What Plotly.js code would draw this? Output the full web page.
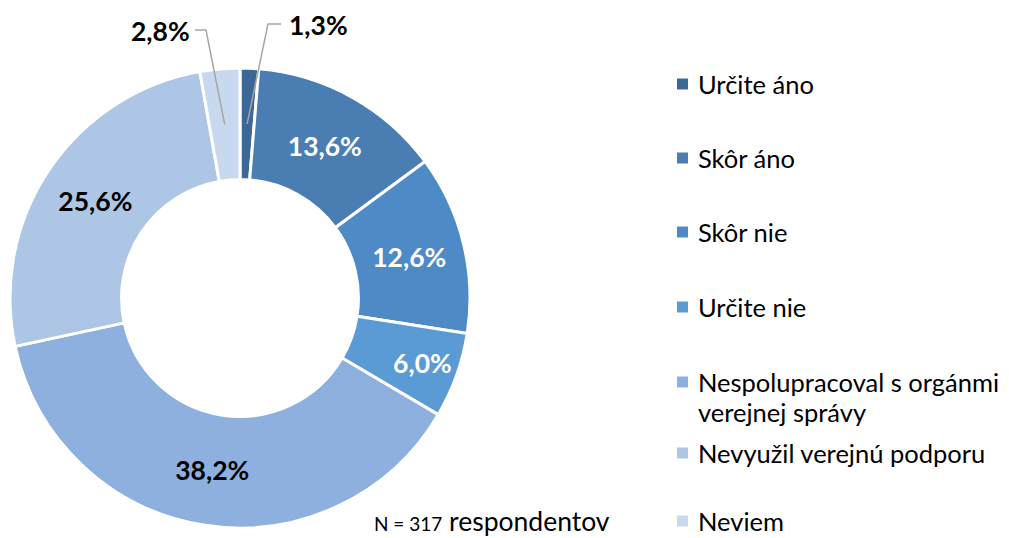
<!DOCTYPE html>
<html>
<head>
<meta charset="utf-8">
<script src="https://cdn.plot.ly/plotly-3.0.1.min.js"></script>
<style>html,body{margin:0;padding:0;background:#fff;}#chart{width:1009px;height:538px;}</style>
</head>
<body>
<div id="chart"></div>
<script>
const categories = ["Určite áno", "Skôr áno", "Skôr nie", "Určite nie", "Nespolupracoval s orgánmi verejnej správy", "Nevyužil verejnú podporu", "Neviem"];
const legendLines = [["Určite áno"], ["Skôr áno"], ["Skôr nie"], ["Určite nie"], ["Nespolupracoval s orgánmi", "verejnej správy"], ["Nevyužil verejnú podporu"], ["Neviem"]];
const values = [1.3, 13.6, 12.6, 6.0, 38.2, 25.6, 2.8];
const colors = ["#3C6898", "#4A7EB3", "#4E8AC5", "#5B9BD5", "#8DB0DE", "#AEC6E6", "#C8D8EE"];
const textColors = ["#000", "#fff", "#fff", "#fff", "#000", "#000", "#000"];
const outsideIdx = [0, 6];
const noteSmall = "N = 317";
const noteLarge = "respondentov";

const W = 1009, H = 538;
const cx = 240, cy = 298, R = 230, hole = 0.515;
const px = x => x / W, py = y => 1 - y / H;
const fmt = v => v.toFixed(1).replace('.', ',') + '%';
const FONT = 'Lato, "Open Sans", sans-serif';

const texts = values.map(v => fmt(v));
const textpos = values.map((v, i) => outsideIdx.includes(i) ? 'none' : 'inside');

const trace = {
  type: 'pie',
  labels: categories,
  values: values,
  text: texts,
  textinfo: 'text',
  texttemplate: '<b>%{text}</b>',
  textposition: textpos,
  insidetextorientation: 'horizontal',
  insidetextfont: {family: FONT, size: 26.5, color: textColors},
  hole: hole,
  sort: false,
  direction: 'clockwise',
  rotation: 0,
  marker: {colors: colors, line: {color: '#ffffff', width: 3}},
  domain: {x: [px(cx - R), px(cx + R)], y: [py(cy + R), py(cy - R)]},
  showlegend: false,
  hoverinfo: 'label+percent'
};

// leader lines + outside labels computed from slice mid-angles
const total = values.reduce((a, b) => a + b, 0);
const shapes = [], annotations = [];
const midR = R * (1 + hole) / 2;
let cum = 0;
const mids = values.map(v => { const m = (cum + v / 2) / total * 2 * Math.PI; cum += v; return m; });
const labelCfg = {
  0: {tx: 318, ty: 25, elbowX: 268, endX: 281},
  6: {tx: 160, ty: 31, elbowX: 206, endX: 195}
};
outsideIdx.forEach(i => {
  const a = mids[i];
  const ex = cx + midR * Math.sin(a), ey = cy - midR * Math.cos(a);
  const c = labelCfg[i];
  shapes.push({type: 'path', xref: 'paper', yref: 'paper',
    path: `M ${px(c.endX)} ${py(c.ty - 1)} L ${px(c.elbowX)} ${py(c.ty - 1)} L ${px(ex)} ${py(ey)}`,
    line: {color: '#A6A6A6', width: 1.5}});
  annotations.push({xref: 'paper', yref: 'paper', x: px(c.tx), y: py(c.ty), text: '<b>' + texts[i] + '</b>',
    showarrow: false, xanchor: 'center', yanchor: 'middle',
    font: {family: FONT, size: 26.5, color: '#000'}});
});

// manual legend
const legY = [84, 158, 232, 307, 382, 453, 521];
legendLines.forEach((lines, i) => {
  const y = legY[i];
  shapes.push({type: 'rect', xref: 'paper', yref: 'paper',
    x0: px(677), x1: px(688), y0: py(y - 5.5), y1: py(y + 5.5),
    fillcolor: colors[i], line: {width: 0}});
  lines.forEach((t, k) => {
    annotations.push({xref: 'paper', yref: 'paper', x: px(696), y: py(y + k * 30), text: t,
      showarrow: false, xanchor: 'left', yanchor: 'middle', align: 'left',
      font: {family: FONT, size: 25.5, color: '#000'}});
  });
});

annotations.push({xref: 'paper', yref: 'paper', x: px(372), y: py(521), xanchor: 'left', yanchor: 'middle',
  showarrow: false, text: '<span style="font-size:19px">' + noteSmall + '</span> ' + noteLarge,
  font: {family: FONT, size: 26.5, color: '#000'}});

const layout = {
  width: W, height: H,
  margin: {l: 0, r: 0, t: 0, b: 0},
  paper_bgcolor: '#fff',
  showlegend: false,
  shapes: shapes,
  annotations: annotations
};
Plotly.newPlot('chart', [trace], layout, {displayModeBar: false, staticPlot: true});
</script>
</body>
</html>
